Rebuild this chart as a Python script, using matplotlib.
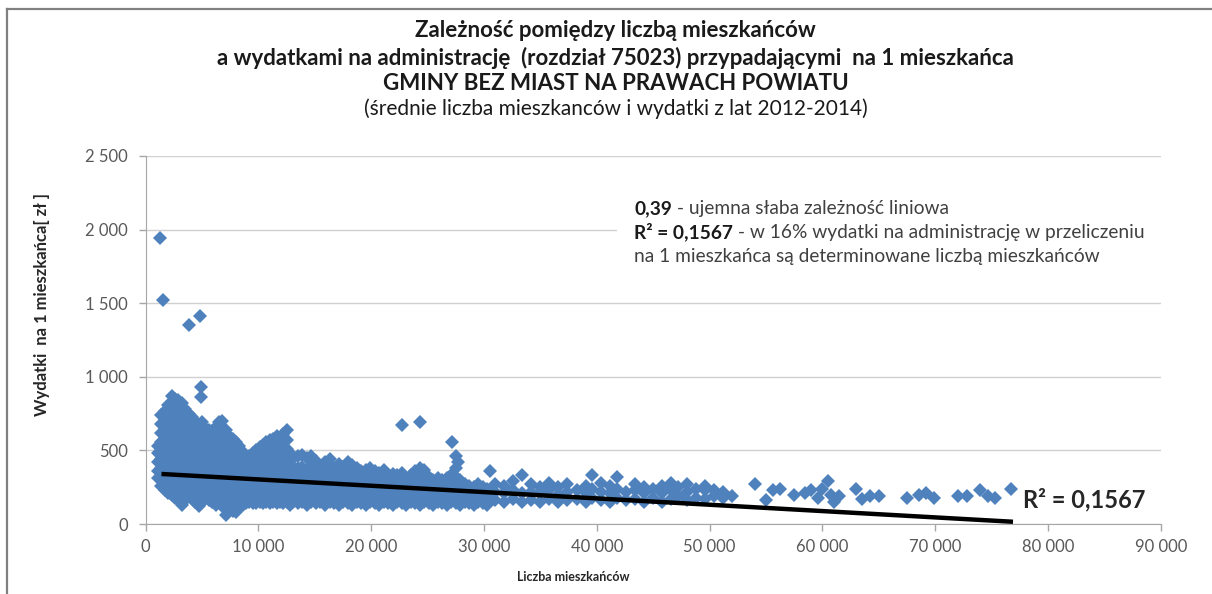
import matplotlib.pyplot as plt
from matplotlib.patches import Rectangle

plt.rcParams['font.family'] = ['Lato', 'DejaVu Sans']

# dense part of the cloud, read column by column (population -> spending per resident)
col_pop = [1100, 1400, 1700, 2000, 2300, 2600, 2900, 3200, 3500, 3800,
           4100, 4400, 4700, 5000, 5300, 5600, 5900, 6200, 6500, 6800,
           7100, 7400, 7700, 8000, 8300, 8600, 8900, 9200, 9500, 9800,
           10100, 10400, 10700, 11000, 11300, 11600, 11900, 12200, 12500, 12800,
           13100, 13500, 13900, 14300, 14700, 15100, 15500, 15900, 16300, 16700,
           17100, 17500, 17900, 18300, 18700, 19100, 19500, 19900, 20300, 20700,
           21100, 21500, 21900, 22300, 22700, 23100, 23500, 23900, 24300, 24700,
           25100, 25500, 25900, 26300, 26700, 27100, 27500, 27900, 28300, 28700,
           29100, 29500, 29900, 30300]
col_spend = [
    [310, 360, 420, 480, 530],
    [260, 320, 380, 440, 500, 560, 620, 680, 740],
    [230, 290, 350, 410, 470, 530, 590, 650, 710, 770],
    [210, 270, 330, 390, 450, 510, 570, 630, 690, 750, 810],
    [200, 260, 320, 380, 440, 500, 560, 620, 680, 740, 800, 870],
    [180, 240, 300, 360, 420, 480, 540, 600, 660, 720, 790, 850],
    [170, 230, 290, 350, 410, 470, 530, 590, 650, 710, 770, 840],
    [130, 200, 260, 320, 380, 440, 500, 560, 620, 690, 760, 820],
    [160, 220, 280, 340, 400, 460, 520, 580, 640, 700, 780],
    [190, 250, 310, 370, 430, 490, 550, 610, 680, 750],
    [170, 230, 290, 350, 410, 470, 530, 590, 650, 730],
    [150, 210, 270, 330, 390, 450, 510, 570, 630, 700],
    [120, 180, 240, 300, 360, 420, 480, 540, 600, 660],
    [150, 210, 270, 330, 390, 450, 510, 570, 630, 690],
    [170, 230, 290, 350, 410, 470, 530, 590, 650],
    [160, 220, 280, 340, 400, 460, 520, 580, 640],
    [150, 210, 270, 330, 390, 450, 510, 570, 630],
    [130, 190, 250, 310, 370, 430, 490, 550, 610, 660],
    [150, 210, 270, 330, 390, 450, 510, 570, 630, 690],
    [120, 180, 240, 300, 360, 420, 480, 540, 600, 700],
    [60, 130, 190, 250, 310, 370, 430, 490, 550, 640],
    [110, 170, 230, 290, 350, 410, 470, 530, 600],
    [90, 150, 210, 270, 330, 390, 450, 510, 580],
    [80, 140, 200, 260, 320, 380, 440, 500, 560],
    [110, 170, 230, 290, 350, 410, 470, 530],
    [130, 190, 250, 310, 370, 430, 490],
    [140, 200, 260, 320, 380, 450],
    [150, 210, 270, 330, 390, 460],
    [140, 200, 260, 320, 380, 440, 480],
    [140, 200, 260, 320, 380, 440, 500],
    [150, 210, 270, 330, 390, 450, 520],
    [140, 200, 260, 320, 380, 440, 500, 540],
    [150, 210, 270, 330, 390, 450, 510, 560],
    [140, 200, 260, 320, 380, 440, 500, 570],
    [150, 210, 270, 330, 390, 450, 510, 580],
    [140, 200, 260, 320, 380, 440, 500, 560, 600],
    [150, 210, 270, 330, 390, 450, 510, 570],
    [140, 200, 260, 320, 380, 440, 500, 560, 610],
    [150, 210, 270, 330, 390, 450, 510, 570, 640],
    [130, 190, 250, 310, 370, 430, 480],
    [150, 210, 270, 330, 390, 450],
    [140, 200, 260, 320, 380, 460],
    [150, 210, 270, 330, 390, 470],
    [130, 190, 250, 310, 370, 450],
    [150, 210, 270, 330, 390, 460],
    [140, 200, 260, 320, 380, 430],
    [150, 210, 270, 330, 390],
    [130, 190, 250, 310, 370, 420],
    [150, 210, 270, 330, 390, 440],
    [140, 200, 260, 320, 380],
    [130, 190, 250, 310, 370, 410],
    [150, 210, 270, 330, 390],
    [140, 200, 260, 320, 380, 420],
    [130, 190, 250, 310, 370, 400],
    [150, 210, 270, 330, 380],
    [140, 200, 260, 320, 360],
    [130, 190, 250, 310, 370],
    [150, 210, 270, 330, 380],
    [140, 200, 260, 320, 360],
    [130, 190, 250, 310, 350],
    [150, 210, 270, 330, 370],
    [140, 200, 260, 320],
    [130, 190, 250, 310, 340],
    [150, 210, 270, 330],
    [140, 200, 260, 320, 350],
    [130, 190, 250, 310],
    [150, 210, 270, 330],
    [140, 200, 260, 320, 360],
    [130, 190, 250, 310, 380],
    [150, 210, 270, 330, 370],
    [140, 200, 260, 320],
    [130, 190, 250, 300],
    [150, 210, 270, 310],
    [140, 200, 260, 300],
    [130, 190, 250, 310],
    [150, 210, 270, 330],
    [140, 200, 260, 320, 380],
    [130, 190, 250, 300],
    [150, 210, 270],
    [140, 200, 260],
    [130, 190, 250],
    [150, 210, 270],
    [140, 200, 250],
    [130, 190, 240],
]

# thinner band between ~31 000 and ~52 000 residents
band_pop = [31000, 31800, 32600, 33400, 34200, 35000, 35800, 36600, 37400, 38200,
            39000, 39600, 40400, 41200, 41800, 42600, 43400, 44200, 45000, 45800,
            46600, 47200, 48000, 48800, 49600, 50400, 51200, 52000]
band_spend = [
    [160, 220, 270], [150, 210, 260], [170, 230, 290], [150, 210, 330],
    [160, 220, 270], [150, 210, 250], [170, 230, 280], [150, 200, 250],
    [160, 220, 270], [170, 230], [150, 210, 260], [180, 240, 330],
    [160, 220, 280], [150, 210, 260], [180, 240, 320], [160, 220],
    [170, 230, 270], [150, 210, 250], [180, 240], [150, 210, 260],
    [170, 230, 280], [190, 250], [160, 220, 270], [180, 240],
    [170, 230, 260], [190, 230], [180, 220], [190],
]

# single, clearly visible points
solo_pop = [1300, 1500, 3800, 4800, 4900, 4900, 22700, 24300, 27200, 27500,
            27700, 30500, 54000, 55000, 55600, 56200, 57500, 58500, 59000, 59600,
            60000, 60500, 60800, 61000, 61500, 63000, 63500, 64200, 65000, 67500,
            68600, 69200, 69900, 72000, 72800, 74000, 74700, 75300, 76700]
solo_spend = [1940, 1520, 1350, 1410, 930, 860, 670, 690, 560, 460,
              420, 360, 270, 160, 230, 240, 200, 210, 230, 180,
              240, 290, 200, 150, 190, 240, 170, 190, 190, 180,
              200, 210, 180, 190, 190, 230, 190, 180, 240]

# linear trend shown in the chart
trend_x = [1400, 76900]
trend_intercept = 346
trend_slope = -0.0043

x_ticks = [0, 10000, 20000, 30000, 40000, 50000, 60000, 70000, 80000, 90000]
x_labels = ['0', '10 000', '20 000', '30 000', '40 000', '50 000', '60 000', '70 000', '80 000', '90 000']
y_ticks = [0, 500, 1000, 1500, 2000, 2500]
y_labels = ['0', '500', '1 000', '1 500', '2 000', '2 500']

title_lines = ['Zależność pomiędzy liczbą mieszkańców',
               'a wydatkami na administrację  (rozdział 75023) przypadającymi  na 1 mieszkańca',
               'GMINY BEZ MIAST NA PRAWACH POWIATU',
               '(średnie liczba mieszkanców i wydatki z lat 2012-2014)']

BLUE = '#4F81BD'
GREY = '#595959'

fig = plt.figure(figsize=(12.12, 5.94), dpi=100)
ax = fig.add_axes([0.1202, 0.1178, 0.8375, 0.6196])

xs, ys = [], []
for x, col in zip(col_pop, col_spend):
    for y in col:
        xs.append(x)
        ys.append(y)
for x, col in zip(band_pop, band_spend):
    for y in col:
        xs.append(x)
        ys.append(y)
xs += solo_pop
ys += solo_spend

ax.plot(xs, ys, ls='none', marker='D', markersize=7.3, color=BLUE,
        markeredgewidth=0, zorder=3)

trend_y = [trend_intercept + trend_slope * x for x in trend_x]
ax.plot(trend_x, trend_y, color='black', lw=3.2, zorder=4, solid_capstyle='butt')

ax.set_xlim(0, 90000)
ax.set_ylim(0, 2500)
ax.set_xticks(x_ticks)
ax.set_xticklabels(x_labels)
ax.set_yticks(y_ticks)
ax.set_yticklabels(y_labels)
ax.tick_params(axis='both', colors='#a6a6a6', labelcolor=GREY, labelsize=12,
               length=5, width=1, direction='out')
ax.tick_params(axis='x', pad=6)
ax.tick_params(axis='y', pad=8)
ax.grid(axis='y', color='#d0d0d0', lw=1, zorder=0)
ax.set_axisbelow(True)
for side in ['top', 'right']:
    ax.spines[side].set_visible(False)
for side in ['left', 'bottom']:
    ax.spines[side].set_color('#a6a6a6')

# white box behind the note hides the 2000 gridline
ax.add_patch(Rectangle((41800, 1720), 48200, 600, facecolor='white',
                       edgecolor='none', zorder=1))

note_kw = dict(fontsize=13.8, zorder=5)
t1 = ax.text(43300, 2085, '0,39', fontweight='bold', va='bottom', color='#1a1a1a', **note_kw)
ax.annotate(' - ujemna słaba zależność liniowa', xy=(1, 0), xycoords=t1,
            va='bottom', color='#404040', **note_kw)
t2 = ax.text(43300, 1922, 'R² = 0,1567', fontweight='bold', va='bottom', color='#1a1a1a', **note_kw)
ax.annotate(' - w 16% wydatki na administrację w przeliczeniu', xy=(1, 0),
            xycoords=t2, va='bottom', color='#404040', **note_kw)
ax.text(43300, 1759, 'na 1 mieszkańca są determinowane liczbą mieszkańców',
        va='bottom', color='#404040', **note_kw)

ax.text(77800, 165, 'R² = 0,1567', fontsize=17, fontweight='bold',
        color='#262626', va='center', zorder=5)

title_y = [0.948, 0.903, 0.859, 0.817]
title_size = [16, 16, 16, 15]
for i, (line, y) in enumerate(zip(title_lines, title_y)):
    fig.text(0.508, y, line, ha='center', va='center', fontsize=title_size[i],
             fontweight='normal' if i == 3 else 'bold', color='#1a1a1a')

fig.text(0.0345, 0.487, 'Wydatki  na 1 mieszkańca[ zł ]', rotation=90,
         ha='center', va='center', fontsize=12, fontweight='bold', color='#262626')
fig.text(0.473, 0.029, 'Liczba mieszkańców', ha='center', va='center',
         fontsize=9, fontweight='bold', color='#262626')

# frame of the chart area (only top and left edges are inside the picture)
fig.add_artist(plt.Line2D([7 / 1212, 1], [1 - 9 / 594, 1 - 9 / 594], color='#808080', lw=1.6,
                          transform=fig.transFigure))
fig.add_artist(plt.Line2D([7 / 1212, 7 / 1212], [0, 1 - 9 / 594], color='#808080', lw=1.6,
                          transform=fig.transFigure))

fig.savefig('out.png', dpi=100)
